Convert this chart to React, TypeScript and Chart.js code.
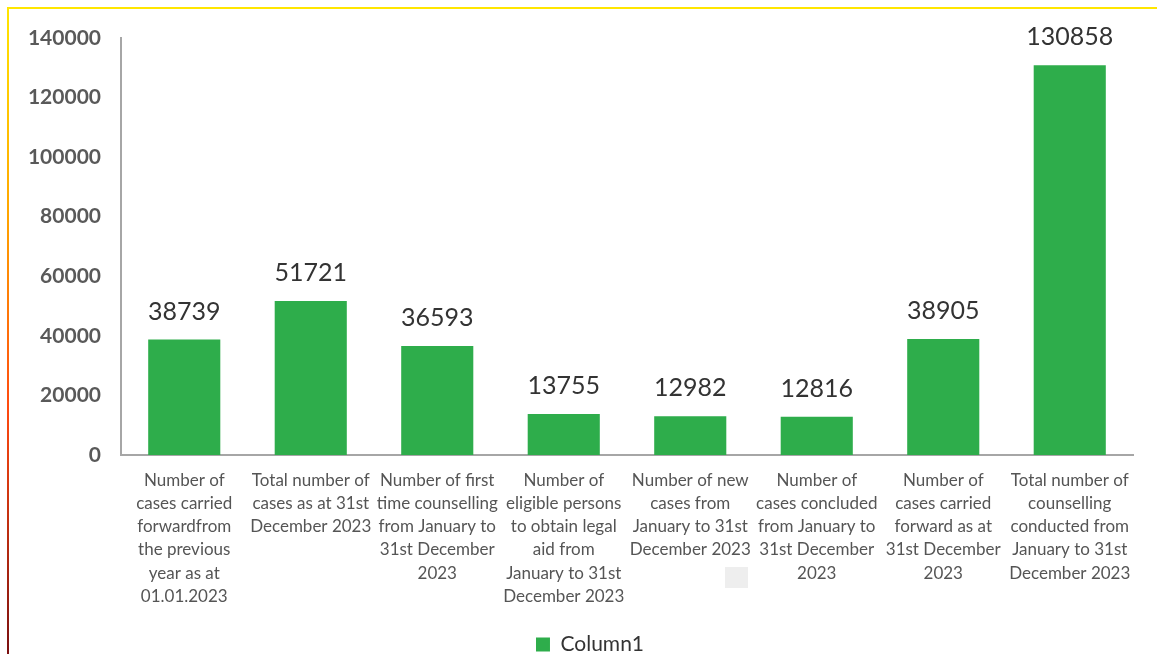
import React, { useEffect, useRef } from "react";
import { Chart, registerables } from "chart.js";

Chart.register(...registerables);

const categories: string[][] = [
  ["Number of", "cases carried", "forwardfrom", "the previous", "year as at", "01.01.2023"],
  ["Total number of", "cases as at 31st", "December 2023"],
  ["Number of first", "time counselling", "from January to", "31st December", "2023"],
  ["Number of", "eligible persons", "to obtain legal", "aid from", "January to 31st", "December 2023"],
  ["Number of new", "cases from", "January to 31st", "December 2023"],
  ["Number of", "cases concluded", "from January to", "31st December", "2023"],
  ["Number of", "cases carried", "forward as at", "31st December", "2023"],
  ["Total number of", "counselling", "conducted from", "January to 31st", "December 2023"],
];
const values: number[] = [38739, 51721, 36593, 13755, 12982, 12816, 38905, 130858];
const seriesName = "Column1";
const yMax = 140000;
const yStep = 20000;

const FONT = "Lato, 'Open Sans', sans-serif";

const valueLabels = {
  id: "valueLabels",
  afterDatasetsDraw(chart: any) {
    const ctx = chart.ctx;
    const meta = chart.getDatasetMeta(0);
    ctx.save();
    ctx.font = `25px ${FONT}`;
    ctx.fillStyle = "#333333";
    ctx.textAlign = "center";
    ctx.textBaseline = "middle";
    meta.data.forEach((el: any, i: number) => {
      ctx.fillText(String(values[i]), el.x, el.y - 28);
    });
    ctx.restore();
  },
};

export default function App() {
  const ref = useRef<HTMLCanvasElement | null>(null);
  useEffect(() => {
    if (!ref.current) return;
    const chart = new Chart(ref.current, {
      type: "bar",
      data: {
        labels: categories,
        datasets: [
          {
            label: seriesName,
            data: values,
            backgroundColor: "#2EAD4B",
            borderWidth: 0,
            categoryPercentage: 1,
            barPercentage: 0.57,
          },
        ],
      },
      options: {
        responsive: false,
        animation: false,
        layout: { padding: { left: 0, right: 0, top: 38, bottom: -11 } },
        plugins: {
          tooltip: { enabled: false },
          legend: {
            position: "bottom",
            labels: {
              font: { family: FONT, size: 21 },
              color: "#333333",
              boxWidth: 14,
              boxHeight: 14,
              padding: 8,
            },
          },
        },
        scales: {
          x: {
            grid: { display: false, drawTicks: false },
            border: { display: true, color: "#A6A6A6", width: 2 },
            ticks: {
              font: { family: FONT, size: 17, lineHeight: 1.36 },
              color: "#555555",
              maxRotation: 0,
              minRotation: 0,
              autoSkip: false,
              padding: 14,
            },
            afterFit(scale: any) {
              scale.height = 171;
            },
          },
          y: {
            min: 0,
            max: yMax,
            grid: { display: false, drawTicks: false },
            border: { display: true, color: "#A6A6A6", width: 2 },
            ticks: {
              stepSize: yStep,
              font: { family: FONT, size: 21, weight: "bold" },
              color: "#595959",
              padding: 20,
              callback: (v: any) => String(v),
            },
            afterFit(scale: any) {
              scale.width = 121;
            },
          },
          yRight: {
            position: "right",
            display: true,
            grid: { display: false, drawTicks: false },
            border: { display: false },
            ticks: { display: false },
            afterFit(scale: any) {
              scale.width = 47;
            },
          },
        },
      },
      plugins: [valueLabels],
    });
    return () => chart.destroy();
  }, []);

  return (
    <div style={{ position: "fixed", left: 0, top: 0, width: 1157, height: 654, background: "#fff", overflow: "hidden" }}>
      <canvas ref={ref} width={1180} height={654} style={{ position: "absolute", left: 0, top: 0 }} />
      <div style={{ position: "absolute", left: 7, top: 7, width: 1150, height: 2, background: "#FFE600" }} />
      <div
        style={{
          position: "absolute",
          left: 7,
          top: 7,
          width: 2,
          height: 647,
          background: "linear-gradient(#FFE600 0%, #FFA500 32%, #FF4A10 62%, #7A1010 100%)",
        }}
      />
      <div style={{ position: "absolute", left: 725, top: 567, width: 23, height: 21, background: "#EEEEEE" }} />
    </div>
  );
}
